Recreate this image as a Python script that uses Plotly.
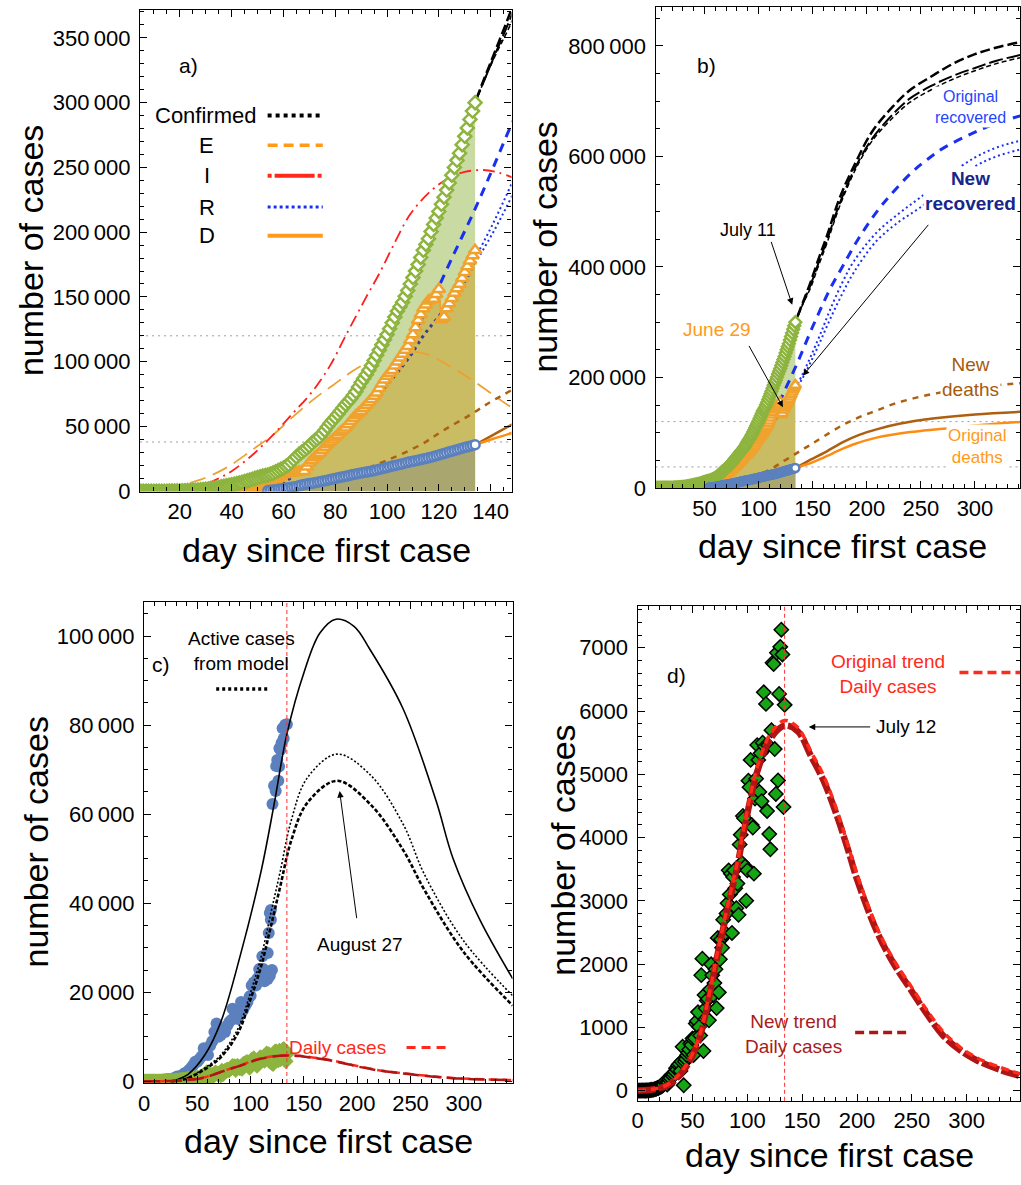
import plotly.graph_objects as go

FONT = "Liberation Sans, Arial, Helvetica, sans-serif"
W, H = 1021, 1185
TS = "\u2009"

# ---------------- cumulative data (panels a, b), one value per day 4..134 ----------------
cum_days = list(range(4, 135))
confirmed = [0, 0, 0, 2, 5, 7, 10, 15, 30, 40,
             50, 70, 90, 125, 160, 205, 250, 320, 400, 500,
             600, 720, 850, 1020, 1200, 1350, 1500, 1800, 2100, 2400,
             2700, 3050, 3400, 3800, 4200, 4600, 5000, 5450, 5900, 6400,
             6900, 7450, 8000, 8650, 9300, 9950, 10600, 11150, 11700, 12150,
             12600, 13300, 14000, 15000, 16000, 17000, 18000, 19300, 20500, 22500,
             24500, 26500, 28500, 30000, 31500, 33200, 35000, 37000, 39000, 40500,
             42000, 44500, 47000, 49800, 52500, 54800, 57000, 59500, 62000, 64500,
             67000, 69200, 71500, 74200, 77000, 80500, 84000, 87000, 90000, 93500,
             97000, 101000, 105000, 109000, 113000, 117000, 121000, 125500, 130000, 134500,
             139000, 142500, 146000, 150500, 155000, 160000, 165000, 170000, 175000, 180500,
             186000, 190500, 195000, 200500, 206000, 211000, 216000, 221500, 227000, 232500,
             238000, 244000, 250000, 255500, 261000, 267500, 274000, 280500, 287000, 293500,
             300000]
recovered = [0] * 40 + [0, 150, 300, 450, 600, 800, 1000, 1500, 2000, 3000,
             4000, 5500, 7000, 8500, 10000, 11500, 13000, 13500, 14000, 14200,
             14500, 14700, 15000, 15200, 15500, 19000, 22000, 24000, 26000, 27800,
             29500, 31800, 34000, 36000, 38000, 39800, 41500, 43500, 45500, 47200,
             49000, 51500, 54000, 56300, 58500, 60200, 62000, 64300, 66500, 68700,
             71000, 73500, 76000, 79500, 83000, 86000, 89000, 91200, 93500, 96800,
             100000, 103000, 106000, 109000, 112000, 116500, 121000, 126500, 132000, 136500,
             141000, 144000, 147000, 148000, 148500, 152000, 156000, 132600, 134500, 141000,
             145000, 149000, 153000, 156500, 160000, 164500, 169000, 173500, 178000, 182000,
             186000]
deaths = [None] * 50 + [500, 750, 1000, 1250, 1500, 1800, 2100, 2400, 2700, 3000,
          3300, 3750, 4200, 4750, 5300, 5600, 5900, 6250, 6600, 6950,
          7300, 7700, 8100, 8550, 9000, 9450, 9900, 10350, 10800, 11200,
          11600, 12050, 12500, 12950, 13400, 13750, 14100, 14450, 14800, 15150,
          15500, 15950, 16400, 16900, 17400, 17900, 18400, 18900, 19400, 19850,
          20300, 20800, 21300, 21800, 22300, 22750, 23200, 23600, 24000, 24450,
          24900, 25350, 25800, 26300, 26800, 27400, 28000, 28600, 29200, 29800,
          30400, 30950, 31500, 32050, 32600, 33200, 33800, 34300, 34800, 35350,
          35900]

# model curves (panels a, b)
I_days = [22, 28, 34, 40, 48, 56, 63, 71, 78, 84, 92, 97, 102, 109, 117, 124, 130, 137, 143, 150]
I_vals = [500, 4000, 9000, 15500, 28000, 43500, 58800, 76600, 97000, 120000, 150000, 168000,
          188000, 214000, 232000, 242000, 246500, 248000, 246000, 241000]
E_days = [15, 21, 28, 34, 40, 48, 56, 63, 72, 79, 88, 99, 107, 115, 126, 134, 143, 150]
E_vals = [2500, 5000, 9000, 14000, 20600, 32000, 43500, 56300, 71500, 81700, 94400, 105000,
          108000, 106000, 94400, 84200, 71500, 62000]
R_days = [52, 58, 68, 76, 84, 94, 102, 109, 114, 120, 127, 131, 134]
R_vals = [0, 4500, 17500, 30800, 46000, 69000, 86800, 104600, 120000, 135000, 153000, 165000, 178000]
D_days = [134, 141, 148, 157, 166, 177, 188, 209, 230, 249, 275, 300, 320, 345]
D1_vals = [180000, 207000, 237000, 278000, 322000, 370000, 410000, 462000, 497000, 525000,
           565000, 598000, 616000, 630000]
D2_vals = [176000, 200000, 227000, 265000, 305000, 350000, 390000, 447000, 482000, 507000,
           548000, 582000, 600000, 614000]
B_days = [112, 118, 126, 134, 141, 148, 156, 166, 178, 192, 210, 221, 241, 255, 270, 298, 320, 345]
B_vals = [128000, 150000, 184000, 218000, 250000, 283000, 318000, 360000, 402000, 450000,
          502000, 528000, 570000, 593000, 614000, 642000, 660000, 675000]
BD_days = [62, 70, 78, 86, 99, 113, 122, 132, 140, 148, 160, 178, 193, 209, 225, 243, 261, 280, 300, 320, 345]
BD_vals = [0, 2500, 6500, 13000, 23000, 35900, 47300, 58800, 69000, 78000, 93000, 114000,
           128000, 140000, 152000, 162000, 170000, 176500, 181500, 186000, 190000]
BS_days = [134, 141, 148, 160, 178, 193, 209, 230, 261, 300, 345]
BS_vals = [35900, 43500, 51200, 63000, 83000, 96000, 106000, 116000, 125500, 133000, 138000]
OS_days = [134, 141, 148, 160, 178, 188, 209, 240, 267, 300, 345]
OS_vals = [35900, 40500, 45000, 55000, 71000, 79000, 91000, 101000, 106500, 113000, 120000]
C1_days = [100, 110, 120, 127, 134, 141, 148, 155, 163, 175, 190, 205, 224, 240, 260, 280, 300, 320, 345]
C1_vals = [121000, 165000, 216000, 255000, 300000, 336000, 372000, 412000, 455000, 525000,
           590000, 645000, 690000, 720000, 745000, 768000, 785000, 797000, 808000]
C_days = [134, 141, 148, 155, 163, 175, 190, 205, 224, 240, 260, 280, 300, 320, 345]
C2_vals = [300000, 334000, 367000, 405000, 447000, 515000, 582000, 632000, 676000, 705000,
           728000, 746000, 760000, 773000, 785000]
C3_vals = [300000, 333000, 362000, 400000, 442000, 510000, 578000, 628000, 670000, 698000,
           721000, 740000, 755000, 768000, 780000]

# ---------------- daily cases (panels c, d) ----------------
daily_cases = [0, 0, 1, 0, 2, 1, 0, 3, 2, 4,
               3, 7, 10, 14, 12, 20, 25, 30, 40, 42,
               55, 60, 70, 85, 100, 146, 120, 94, 130, 175,
               200, 251, 230, 260, 300, 355, 330, 400, 420, 310,
               460, 694, 84, 460, 500, 560, 600, 650, 746, 720,
               824, 564, 830, 1059, 1100, 1241, 1007, 870, 1825, 2086,
               626, 1512, 1300, 1423, 1450, 1111, 1600, 1997, 1825, 1512,
               1700, 1919, 1304, 2414, 1553, 2075, 2388, 2258, 2700, 2450,
               2492, 2800, 2961, 3482, 3100, 3430, 2492, 3378, 3482, 3200,
               2883, 3273, 2779, 3889, 4045, 3600, 4342, 4305, 3545, 3002,
               3482, 4900, 4796, 5228, 4200, 4159, 3430, 4617, 4931, 5462,
               5228, 4722, 5331, 4575, 5500, 6296, 5440, 6113, 4420, 5460,
               4056, 3815, 5697, 6765, 6745, 5400, 4690, 6921, 4904, 6270,
               7015, 7286, 6895, 4482, 6098]
daily_days = list(range(len(daily_cases)))

active_days = [5, 8, 11, 14, 17, 20, 23, 26, 29, 31, 33, 35, 37, 38, 40, 42, 44, 46, 48, 50,
               52, 54, 56, 58, 60, 62, 64, 66, 68, 70, 72, 74, 76, 78, 80, 82, 83, 85, 88, 90,
               91, 93, 95, 97, 99, 100, 101, 103, 105, 106, 108, 109, 111, 112, 113, 114, 115, 116, 116, 117,
               117, 118, 118, 119, 119, 120, 120.5, 122, 123.5, 124, 125, 126, 126.7, 127, 128, 129, 130, 131, 132.5, 134]
active_cases = [100, 150, 200, 250, 300, 400, 500, 600, 800, 1100, 1000, 1300, 1500, 1800, 2000, 2500, 3000, 3600, 4400, 4400,
                5000, 5600, 7400, 6500, 5900, 8000, 9000, 11100, 13000, 10000, 10400, 11500, 11100, 12500, 13300, 13800, 16300, 14500, 14000, 16500,
                17800, 16000, 17000, 17800, 19000, 19200, 21500, 22200, 21500, 23000, 25200, 24400, 28100, 25200, 22500, 23700, 24500, 23000, 28800, 33300,
                24400, 37800, 23700, 36300, 38500, 25000, 62300, 66400, 65200, 70800, 72200, 67500, 70700, 74800, 74500, 76000, 79300, 77000, 80100, 80200]

cs_days = [25, 30, 41, 57, 72, 90, 110, 122, 134, 150, 165, 180, 197, 212, 243, 274, 290, 315, 346]
cs_vals = [0, 300, 1500, 5900, 13300, 28000, 47400, 62200, 78000, 91800, 100700, 103800, 102200,
           97000, 83700, 63000, 50000, 36300, 23000]
cd_days = [25, 40, 57, 72, 88, 100, 110, 119, 128, 138, 153, 181, 212, 243, 263, 300, 346]
c_thin_vals = [0, 700, 3000, 5900, 11800, 20000, 28100, 37800, 47400, 58500, 68100, 73500, 68900,
               57800, 46500, 31500, 19200]
c_thick_vals = [0, 600, 2700, 5400, 10800, 18500, 26000, 34800, 44000, 54000, 62500, 67500, 62300,
                52000, 43000, 29000, 17000]

trend_days = [0, 15, 28, 43, 55, 64, 73, 85, 91, 97, 103, 109, 121, 134, 146, 158, 170, 182, 193,
              200, 218, 233, 248, 263, 278, 293, 309, 330, 350]
trend_orig = [0, 25, 100, 370, 790, 1420, 2200, 3150, 3620, 4170, 4690, 5110, 5640, 5850, 5740,
              5360, 4960, 4410, 3810, 3420, 2580, 2080, 1680, 1290, 940, 700, 520, 370, 260]
trend_new = [0, 22, 90, 345, 760, 1380, 2160, 3100, 3560, 4110, 4620, 5040, 5560, 5770, 5680,
             5290, 4880, 4330, 3740, 3340, 2520, 2020, 1620, 1230, 880, 650, 480, 330, 225]

a_yticks = [0, 50000, 100000, 150000, 200000, 250000, 300000, 350000]
b_yticks = [0, 200000, 400000, 600000, 800000]
c_yticks = [0, 20000, 40000, 60000, 80000, 100000]
d_yticks = [0, 1000, 2000, 3000, 4000, 5000, 6000, 7000]

# ---------------- styles ----------------
GREEN = '#8db43e'
GREEN_FILL = '#c9daa3'
OLIVE_FILL = '#c9bc63'
DARK_FILL = '#a9a66f'
ORANGE_MK = '#f0a22e'
BLUE_MK = '#5b80bd'
RED = '#ff1f1f'
E_ORANGE = '#eea030'
NAVY = '#3a3c8c'
BLUE = '#1a30f0'
BROWN = '#ad600f'
ORANGE = '#ff8c12'
TXT_RED = '#ff2a1a'
DARK_RED = '#b01515'

fig = go.Figure()


def curve(x, y, xa, ya, color, width, dash='solid', shape='spline'):
    return go.Scatter(x=x, y=y, xaxis=xa, yaxis=ya, mode='lines',
                      line=dict(color=color, width=width, dash=dash, shape=shape, smoothing=1.0),
                      hoverinfo='skip', showlegend=False)


def cumulative_panel(xa, ya, with_ie, msize, mlw):
    fig.add_trace(go.Scatter(x=cum_days, y=recovered, xaxis=xa, yaxis=ya, mode='none', fill='tozeroy',
                             fillcolor=OLIVE_FILL, hoverinfo='skip'))
    fig.add_trace(go.Scatter(x=cum_days, y=deaths, xaxis=xa, yaxis=ya, mode='none', fill='tozeroy',
                             fillcolor=DARK_FILL, hoverinfo='skip'))
    if with_ie:
        fig.add_trace(curve(E_days, E_vals, xa, ya, E_ORANGE, 1.8, '16px,8px'))
    fig.add_trace(go.Scatter(x=cum_days, y=recovered, xaxis=xa, yaxis=ya, mode='lines',
                             line=dict(width=0, color='rgba(0,0,0,0)'), hoverinfo='skip'))
    fig.add_trace(go.Scatter(x=cum_days, y=confirmed, xaxis=xa, yaxis=ya, mode='none', fill='tonexty',
                             fillcolor=GREEN_FILL, hoverinfo='skip'))
    if with_ie:
        fig.add_trace(curve(I_days, I_vals, xa, ya, RED, 1.8, '12px,5px,2px,5px'))
    fig.add_trace(curve(R_days, R_vals, xa, ya, NAVY, 3, '3px,4px'))
    fig.add_trace(curve(D_days, D1_vals, xa, ya, BLUE, 2, '2px,3px'))
    fig.add_trace(curve(D_days, D2_vals, xa, ya, BLUE, 2, '2px,3px'))
    fig.add_trace(curve(B_days, B_vals, xa, ya, BLUE, 3, '9px,7px'))
    fig.add_trace(curve(BD_days, BD_vals, xa, ya, BROWN, 2.5, '6px,6px'))
    fig.add_trace(curve(BS_days, BS_vals, xa, ya, BROWN, 2.5))
    fig.add_trace(curve(OS_days, OS_vals, xa, ya, ORANGE, 2.5))
    fig.add_trace(curve(C1_days, C1_vals, xa, ya, 'black', 2.5, '10px,4px'))
    fig.add_trace(curve(C_days, C2_vals, xa, ya, 'black', 2, '14px,4px'))
    fig.add_trace(curve(C_days, C3_vals, xa, ya, 'black', 1.5, '5px,3px'))
    fig.add_trace(go.Scatter(x=cum_days, y=recovered, xaxis=xa, yaxis=ya, mode='lines+markers',
                             line=dict(color=ORANGE_MK, width=2),
                             marker=dict(symbol='triangle-up', size=msize + 1, color='white',
                                         line=dict(color=ORANGE_MK, width=mlw)), hoverinfo='skip'))
    fig.add_trace(go.Scatter(x=cum_days, y=confirmed, xaxis=xa, yaxis=ya, mode='lines+markers',
                             line=dict(color=GREEN, width=2),
                             marker=dict(symbol='diamond', size=msize, color='white',
                                         line=dict(color=GREEN, width=mlw)), hoverinfo='skip'))
    fig.add_trace(go.Scatter(x=cum_days, y=deaths, xaxis=xa, yaxis=ya, mode='lines+markers',
                             line=dict(color=BLUE_MK, width=2),
                             marker=dict(symbol='circle', size=msize - 1, color='white',
                                         line=dict(color=BLUE_MK, width=mlw)), hoverinfo='skip'))


cumulative_panel('x', 'y', True, 10, 2.5)
cumulative_panel('x2', 'y2', False, 9, 2.5)

# panel c
fig.add_trace(go.Scatter(x=active_days, y=active_cases, xaxis='x3', yaxis='y3', mode='markers',
                         marker=dict(symbol='circle', size=12, color=BLUE_MK), hoverinfo='skip'))
fig.add_trace(go.Scatter(x=daily_days, y=daily_cases, xaxis='x3', yaxis='y3', mode='markers',
                         marker=dict(symbol='diamond', size=12, color=GREEN), hoverinfo='skip'))
fig.add_trace(curve(cs_days, cs_vals, 'x3', 'y3', 'black', 1.6))
fig.add_trace(curve(cd_days, c_thin_vals, 'x3', 'y3', 'black', 1.6, '2px,2px'))
fig.add_trace(curve(cd_days, c_thick_vals, 'x3', 'y3', 'black', 2.6, '4px,2px'))
fig.add_trace(curve(trend_days, trend_orig, 'x3', 'y3', TXT_RED, 2.5, '9px,5px'))
fig.add_trace(curve(trend_days, trend_new, 'x3', 'y3', DARK_RED, 2.5, '16px,6px'))

# panel d
fig.add_trace(go.Scatter(x=daily_days, y=daily_cases, xaxis='x4', yaxis='y4', mode='markers',
                         marker=dict(symbol='diamond', size=11, color='#15a515',
                                     line=dict(color='black', width=1.5)), hoverinfo='skip'))
fig.add_trace(curve(trend_days, trend_new, 'x4', 'y4', DARK_RED, 6.5, '18px,3px'))
fig.add_trace(curve(trend_days, trend_orig, 'x4', 'y4', TXT_RED, 3.5, '8px,5px'))

# ---------------- axes ----------------
def ax(domain, rng, tickvals, ticktext, minor, anchor, standoff):
    return dict(domain=domain, range=rng, anchor=anchor, tickmode='array', tickvals=tickvals,
                ticktext=ticktext, showline=True, linecolor='black', linewidth=1.3, mirror='allticks',
                ticks='inside', ticklen=7, tickwidth=1, tickcolor='black', ticklabelstandoff=standoff,
                minor=dict(tickmode='linear', tick0=0, dtick=minor, ticks='inside', ticklen=4,
                           tickwidth=1, tickcolor='black'),
                showgrid=False, zeroline=False,
                tickfont=dict(family=FONT, size=22, color='black'))


def sep(v):
    s = f"{v:,}"
    return s.replace(',', TS) if v >= 10000 else str(v)


def xd(p0, p1):
    return [p0 / W, min(p1 / W, 1.0)]


def yd(top, bottom):
    return [1 - bottom / H, 1 - top / H]


a_x = [20, 40, 60, 80, 100, 120, 140]
bx = [50, 100, 150, 200, 250, 300]
cx = [0, 50, 100, 150, 200, 250, 300]

fig.update_layout(
    xaxis=ax(xd(135, 509), [4.66, 148.05], a_x, [str(v) for v in a_x], 5, 'y', 0),
    yaxis=ax(yd(10, 497), [-230, 371600], a_yticks, [sep(v) for v in a_yticks], 10000, 'x', 4),
    xaxis2=ax(xd(654, 1021), [4.75, 341.6], bx, [str(v) for v in bx], 10, 'y2', 0),
    yaxis2=ax(yd(6.7, 493.5), [-300, 871000], b_yticks, [sep(v) for v in b_yticks], 50000, 'x2', 4),
    xaxis3=ax(xd(139, 510), [0, 345.7], cx, [str(v) for v in cx], 10, 'y3', 0),
    yaxis3=ax(yd(609, 1095), [-380, 107600], c_yticks, [sep(v) for v in c_yticks], 5000, 'x3', 4),
    xaxis4=ax(xd(636, 1021), [0, 348.6], cx, [str(v) for v in cx], 10, 'y4', 0),
    yaxis4=ax(yd(612.7, 1113), [-161, 7661], d_yticks, [sep(v) for v in d_yticks], 200, 'x4', 4),
)

# ---------------- shapes ----------------
shapes = []
for yy in (120000, 38000):
    shapes.append(dict(type='line', xref='x domain', yref='y', x0=0, x1=1, y0=yy, y1=yy, layer='below',
                       line=dict(color='#9a9a9a', width=1, dash='2px,4px')))
    shapes.append(dict(type='line', xref='x2 domain', yref='y2', x0=0, x1=1, y0=yy, y1=yy, layer='below',
                       line=dict(color='#9a9a9a', width=1, dash='2px,4px')))


def seg(xref, yref, x0, x1, y, color, width, dash='solid'):
    shapes.append(dict(type='line', xref=xref, yref=yref, x0=x0, x1=x1, y0=y, y1=y, layer='above',
                       line=dict(color=color, width=width, dash=dash)))


seg('x', 'y', 53.9, 75.2, 290100, 'black', 4, '4px,4px')
seg('x', 'y', 53.9, 75.2, 267200, '#ff9a1a', 3.5, '10px,6px')
seg('x', 'y', 53.9, 75.2, 243600, '#ff2a1a', 4, '4px,3px,40px,3px')
seg('x', 'y', 53.9, 75.2, 219400, '#1a30f0', 3, '3px,3px')
seg('x', 'y', 53.9, 75.2, 197300, '#ff9a1a', 4)
seg('x3', 'y3', 67.7, 117.4, 88130, 'black', 3.5, '3px,3px')
seg('x3', 'y3', 246.3, 288.2, 7620, TXT_RED, 3, '9px,6px')
seg('x4', 'y4', 293.4, 350, 6609, TXT_RED, 3.5, '9px,5px')
seg('x4', 'y4', 198.3, 246.6, 917, DARK_RED, 3.5, '9px,5px')
for xr, yr in (('x3', 'y3 domain'), ('x4', 'y4 domain')):
    shapes.append(dict(type='line', xref=xr, yref=yr, x0=134, x1=134, y0=0, y1=1, layer='above',
                       line=dict(color='#ff3030', width=1, dash='4px,3px')))

# ---------------- annotations ----------------
ann = []


def text(x, y, s, xref, yref, size, color='black', xanchor='center', bg=None, angle=0):
    d = dict(x=x, y=y, xref=xref, yref=yref, text=s, showarrow=False, textangle=angle,
             font=dict(family=FONT, size=size, color=color), xanchor=xanchor, yanchor='middle',
             align='center', borderpad=0)
    if bg:
        d['bgcolor'] = bg
        d['borderpad'] = 1
    ann.append(d)


def arrow(x0, y0, x1, y1, xref, yref):
    ann.append(dict(x=x1, y=y1, ax=x0, ay=y0, xref=xref, yref=yref, axref=xref, ayref=yref, text='',
                    showarrow=True, arrowhead=2, arrowsize=1.3, arrowwidth=1, arrowcolor='black',
                    standoff=0, startstandoff=0))


# axis titles
for (px, py, s, ang) in [(25, 253, 'number of cases', -90), (323, 556, 'day since first case', 0),
                         (543, 250, 'number of cases', -90), (842, 552, 'day since first case', 0),
                         (30, 851, 'number of cases', -90), (325, 1154, 'day since first case', 0),
                         (560, 860, 'number of cases', -90), (829, 1168, 'day since first case', 0)]:
    text(px / W, 1 - py / H, s, 'paper', 'paper', 34, angle=ang)

# panel a
text(23.3, 328300, 'a)', 'x', 'y', 21)
text(49.9, 290100, 'Confirmed', 'x', 'y', 22, xanchor='right')
for s, yy in (('E', 267200), ('I', 243600), ('R', 219400), ('D', 197300)):
    text(30.4, yy, s, 'x', 'y', 22)

# panel b
text(51.6, 765300, 'b)', 'x2', 'y2', 21)
text(90.6, 466800, 'July 11', 'x2', 'y2', 18)
text(61.4, 286600, 'June 29', 'x2', 'y2', 19, color='#ff9a1a')
text(296.3, 689300, 'Original<br>recovered', 'x2', 'y2', 16, color='#1f45ff', bg='white')
text(296.3, 537900, '<b>New<br>recovered</b>', 'x2', 'y2', 19, color='#16268a', bg='white')
text(296.3, 200600, 'New<br>deaths', 'x2', 'y2', 19, color='#a65a0c', bg='white')
text(302.4, 74500, 'Original<br>deaths', 'x2', 'y2', 17, color='#ff9a1a', bg='white')
arrow(111.2, 448000, 131.1, 331400, 'x2', 'y2')
arrow(90.4, 259700, 122.5, 146200, 'x2', 'y2')
arrow(258, 478800, 140.9, 203000, 'x2', 'y2')

# panel c
text(15.8, 93700, 'c)', 'x3', 'y3', 21)
text(91.6, 96700, 'Active cases<br>from model', 'x3', 'y3', 19)
text(202.8, 30700, 'August 27', 'x3', 'y3', 19)
arrow(199.7, 36300, 183.5, 65200, 'x3', 'y3')
text(135.5, 7600, 'Daily cases', 'x3', 'y3', 19, color=TXT_RED, xanchor='left')

# panel d
text(35.3, 6567, 'd)', 'x4', 'y4', 21)
text(227.9, 6589, 'Original trend<br>Daily cases', 'x4', 'y4', 19, color=TXT_RED)
text(245.1, 5749, 'July 12', 'x4', 'y4', 19)
arrow(213.4, 5749, 156, 5749, 'x4', 'y4')
text(142.4, 902, 'New trend<br>Daily cases', 'x4', 'y4', 19, color='#a81c1c')

fig.update_layout(width=W, height=H, margin=dict(l=0, r=0, t=0, b=0),
                  paper_bgcolor='white', plot_bgcolor='white', showlegend=False,
                  shapes=shapes, annotations=ann, font=dict(family=FONT, color='black'))

fig.write_html("out.html")
